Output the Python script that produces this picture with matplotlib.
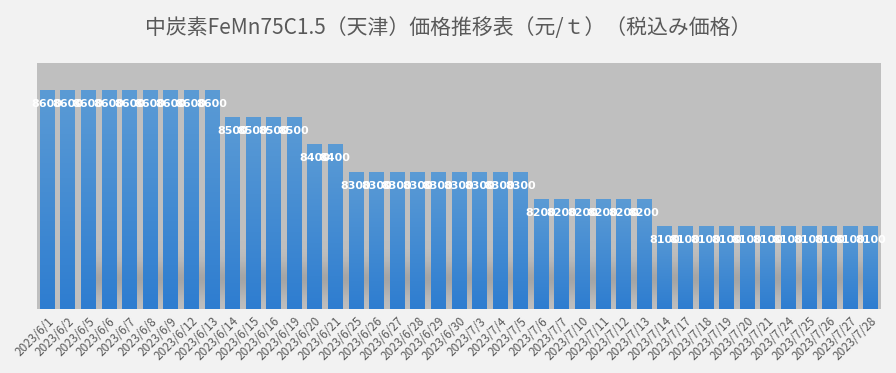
import matplotlib.pyplot as plt
import numpy as np

plt.rcParams['font.family'] = ['Noto Sans CJK JP', 'DejaVu Sans']

dates = ['2023/6/1', '2023/6/2', '2023/6/5', '2023/6/6', '2023/6/7', '2023/6/8', '2023/6/9',
         '2023/6/12', '2023/6/13', '2023/6/14', '2023/6/15', '2023/6/16', '2023/6/19',
         '2023/6/20', '2023/6/21', '2023/6/25', '2023/6/26', '2023/6/27', '2023/6/28',
         '2023/6/29', '2023/6/30', '2023/7/3', '2023/7/4', '2023/7/5', '2023/7/6', '2023/7/7',
         '2023/7/10', '2023/7/11', '2023/7/12', '2023/7/13', '2023/7/14', '2023/7/17',
         '2023/7/18', '2023/7/19', '2023/7/20', '2023/7/21', '2023/7/24', '2023/7/25',
         '2023/7/26', '2023/7/27', '2023/7/28']
prices = [8600] * 9 + [8500] * 4 + [8400] * 2 + [8300] * 9 + [8200] * 6 + [8100] * 11

title = '中炭素FeMn75C1.5（天津）価格推移表（元/ｔ）（税込み価格）'

ymin, ymax = 7800, 8700
x = np.arange(len(prices))

fig = plt.figure(figsize=(8.96, 3.73), dpi=100, facecolor='#f2f2f2')
ax = fig.add_axes([0.041, 0.171, 0.942, 0.66])
ax.set_facecolor('#bfbfbf')
ax.set_xlim(-0.5, len(prices) - 0.5)
ax.set_ylim(ymin, ymax)

# soft shadow band near the bottom
yy = np.linspace(0, 1, 200)[:, None]
band = np.exp(-((yy - 0.12) / 0.07) ** 2) * np.ones((1, 10))
shadow = np.zeros((200, 10, 4))
shadow[..., :3] = 0.55
shadow[..., 3] = band * 0.5
ax.imshow(shadow, extent=(2, len(prices) - 1, ymin, ymax), origin='lower',
          aspect='auto', zorder=1, interpolation='bicubic')

# bars with a vertical gradient
top_c = np.array([91, 155, 213]) / 255
bot_c = np.array([46, 125, 208]) / 255
grad = np.linspace(0, 1, 256)[:, None]
cols = bot_c[None, None, :] * (1 - grad[..., None]) + top_c[None, None, :] * grad[..., None]
cols = np.repeat(cols, 2, axis=1)
bw = 0.7
bars = ax.bar(x, prices, width=bw, bottom=0, color='none', zorder=2)
for b, v in zip(bars, prices):
    ax.imshow(cols, extent=(b.get_x(), b.get_x() + bw, ymin, v), origin='lower',
              aspect='auto', zorder=2)
    ax.text(b.get_x() + bw / 2, v - 48, str(v), ha='center', va='center', color='white',
            fontsize=8, fontweight='bold', family='DejaVu Sans', zorder=3)

ax.set_xticks(x)
ax.set_xticklabels(dates, rotation=45, ha='right', rotation_mode='anchor',
                   fontsize=8.5, color='#595959')
ax.tick_params(axis='x', length=0, pad=4)
ax.set_yticks([])
for s in ax.spines.values():
    s.set_visible(False)

fig.text(0.5, 0.925, title, ha='center', va='center', fontsize=15, color='#595959')

fig.savefig('out.png', dpi=100, facecolor=fig.get_facecolor())
